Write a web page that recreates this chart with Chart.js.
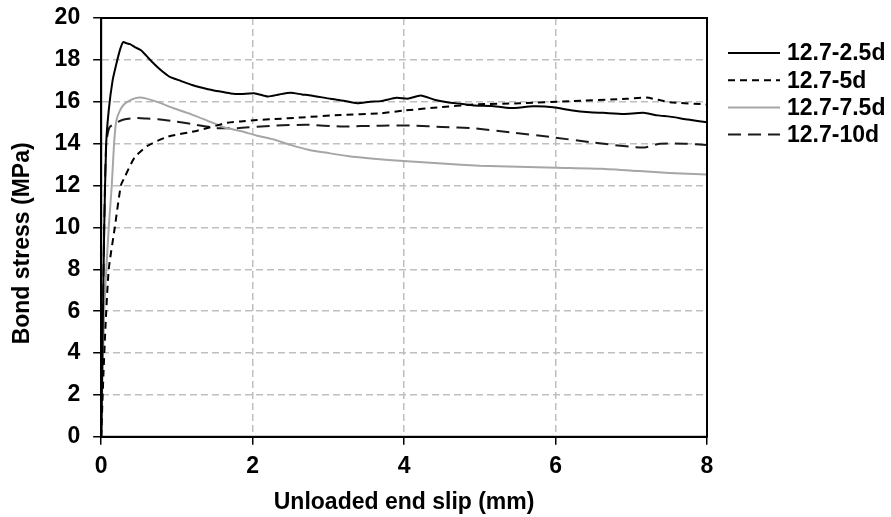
<!DOCTYPE html>
<html>
<head>
<meta charset="utf-8">
<script src="https://cdn.jsdelivr.net/npm/chart.js@4.4.0/dist/chart.umd.min.js"></script>
<style>
body{margin:0;background:#fff}
</style>
</head>
<body>
<canvas id="myChart" width="891" height="517"></canvas>
<script>
const LABELS = ["12.7-2.5d","12.7-5d","12.7-7.5d","12.7-10d"]

// 12.7-2.5d
const slip_25   = [0,0.02,0.04,0.066,0.1,0.15,0.2,0.25,0.29,0.33,0.38,0.45,0.53,0.62,0.7,0.79,0.9,1.05,1.2,1.41,1.55,1.71,1.84,2.02,2.2,2.35,2.5,2.65,2.77,3.03,3.2,3.38,3.55,3.69,3.9,4.05,4.22,4.4,4.57,4.75,4.92,5.15,5.4,5.7,5.97,6.2,6.45,6.63,6.9,7.16,7.35,7.51,7.75,8.0]
const stress_25 = [0,5,10,14,15.6,17.0,17.8,18.5,18.85,18.8,18.75,18.6,18.45,18.1,17.8,17.5,17.2,17.0,16.8,16.6,16.5,16.4,16.37,16.41,16.25,16.35,16.43,16.35,16.3,16.14,16.05,15.93,16.0,16.03,16.19,16.15,16.3,16.1,15.98,15.9,15.82,15.8,15.7,15.78,15.74,15.6,15.5,15.47,15.42,15.47,15.35,15.29,15.15,15.02]

// 12.7-5d
const slip_5   = [0,0.03,0.06,0.1,0.18,0.26,0.31,0.44,0.61,0.88,1.27,1.67,1.84,2.06,2.28,2.64,3.16,3.69,4.0,4.48,4.92,5.53,6.19,6.94,7.2,7.51,8.0]
const stress_5 = [0,3,5.5,8,10,12,12.4,13.33,13.89,14.33,14.62,15.0,15.06,15.13,15.17,15.25,15.37,15.45,15.58,15.74,15.87,15.93,16.03,16.14,16.2,15.98,15.87]

// 12.7-7.5d
const slip_75   = [0,0.04,0.1,0.14,0.17,0.2,0.25,0.31,0.4,0.5,0.6,0.75,0.95,1.19,1.4,1.62,1.84,2.06,2.28,2.5,2.75,3.0,3.25,3.6,3.99,4.5,5.0,5.5,6.02,6.6,7.11,7.5,8.0]
const stress_75 = [0,6,10,12,14,15.1,15.6,15.9,16.1,16.2,16.15,15.98,15.7,15.4,15.1,14.78,14.6,14.38,14.2,13.94,13.7,13.55,13.41,13.28,13.17,13.05,12.95,12.9,12.85,12.8,12.69,12.6,12.53]

// 12.7-10d
const slip_10   = [0,0.02,0.04,0.066,0.11,0.2,0.3,0.44,0.6,0.75,1.0,1.19,1.54,1.8,2.28,2.72,3.16,3.69,4.13,4.5,4.92,5.4,5.97,6.5,7.15,7.38,7.7,8.0]
const stress_10 = [0,5,10,14,14.78,15.0,15.15,15.22,15.2,15.17,15.05,14.94,14.74,14.74,14.86,14.9,14.82,14.86,14.86,14.8,14.73,14.54,14.3,14.05,13.81,13.99,14.0,13.94]

const x_ticks = [0,2,4,6,8]
const y_ticks = [0,2,4,6,8,10,12,14,16,18,20]

const FONT = "'Liberation Sans', Arial, sans-serif"

function points(xs, ys){
    return xs.map((x,i)=>{return {x:x, y:ys[i]}})
}

// black frame round the plot area
const frame = {
    id: 'frame',
    afterDatasetsDraw(chart){
        const ctx = chart.ctx
        const a = chart.chartArea
        ctx.save()
        ctx.strokeStyle = '#000'
        ctx.lineWidth = 2
        ctx.strokeRect(a.left, a.top, a.right - a.left, a.bottom - a.top)
        ctx.restore()
    }
}

// legend at the right, top aligned
const sideLegend = {
    id: 'sideLegend',
    afterDraw(chart){
        const ctx = chart.ctx
        const a = chart.chartArea
        chart.data.datasets.forEach((ds,i)=>{
            const y = a.top + 35 + i*27.2
            ctx.save()
            ctx.strokeStyle = ds.borderColor
            ctx.lineWidth = ds.borderWidth
            ctx.setLineDash(ds.borderDash || [])
            ctx.beginPath()
            ctx.moveTo(a.right + 21, y)
            ctx.lineTo(a.right + 73, y)
            ctx.stroke()
            ctx.setLineDash([])
            ctx.fillStyle = '#000'
            ctx.font = "bold 23px " + FONT
            ctx.textBaseline = 'middle'
            ctx.fillText(ds.label, a.right + 80, y + 1)
            ctx.restore()
        })
    }
}

function make_set(label, xs, ys, color, dash){
    return {
        label: label,
        data: points(xs, ys),
        showLine: true,
        borderColor: color,
        borderWidth: 2,
        borderDash: dash,
        pointRadius: 0,
        tension: 0.2,
        fill: false
    }
}

const data = {
    datasets: [
        make_set(LABELS[0], slip_25, stress_25, '#000000', []),
        make_set(LABELS[1], slip_5, stress_5, '#000000', [7,5]),
        make_set(LABELS[2], slip_75, stress_75, '#a6a6a6', []),
        make_set(LABELS[3], slip_10, stress_10, '#1a1a1a', [13,7])
    ]
}

const gridStyle = {
    color: '#bfbfbf',
    lineWidth: 1.5,
    tickColor: '#000',
    tickWidth: 1.5,
    tickLength: 8,
    tickBorderDash: []
}

var ctx = document.getElementById('myChart').getContext('2d')
var myChart = new Chart(ctx, {
    type: 'scatter',
    data: data,
    plugins: [frame, sideLegend],
    options: {
        responsive: false,
        animation: false,
        devicePixelRatio: 1,
        layout: { padding: { top: 18, right: 184, left: 0, bottom: 0 } },
        plugins: {
            legend: { display: false },
            tooltip: { enabled: false }
        },
        scales: {
            x: {
                type: 'linear',
                min: 0, max: 8,
                afterBuildTicks: (axis)=>{ axis.ticks = x_ticks.map(v=>({value:v})) },
                grid: gridStyle,
                border: { display: true, color: '#000', width: 2, dash: [7,4] },
                ticks: { color: '#000', padding: 8, font: { family: FONT, size: 23, weight: 'bold' } },
                title: { display: true, text: 'Unloaded end slip (mm)', color: '#000',
                    padding: { top: 0, bottom: 1 }, font: { family: FONT, size: 23, weight: 'bold' } }
            },
            y: {
                type: 'linear',
                min: 0, max: 20,
                afterBuildTicks: (axis)=>{ axis.ticks = y_ticks.map(v=>({value:v})) },
                grid: gridStyle,
                border: { display: true, color: '#000', width: 2, dash: [7,4] },
                ticks: { color: '#000', padding: 13, font: { family: FONT, size: 23, weight: 'bold', lineHeight: 0.4 } },
                title: { display: true, text: 'Bond stress (MPa)     ', color: '#000',
                    padding: { top: 9, bottom: 5 }, font: { family: FONT, size: 23, weight: 'bold' } }
            }
        }
    }
})
myChart.update()
</script>
</body>
</html>
